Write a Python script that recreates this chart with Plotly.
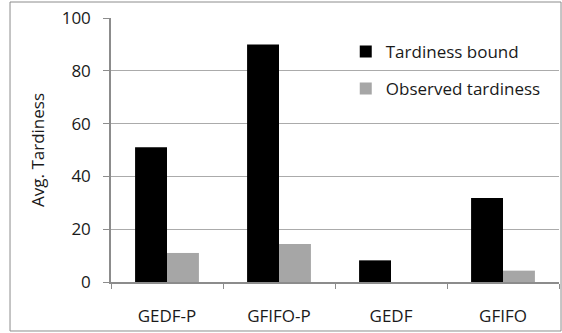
import plotly.graph_objects as go

categories = ["GEDF-P", "GFIFO-P", "GEDF", "GFIFO"]
tardiness_bound = [51, 90, 8.2, 31.8]
observed_tardiness = [11, 14.4, 0, 4.3]
y_ticks = [0, 20, 40, 60, 80, 100]

FONT = "Open Sans"

fig = go.Figure()
fig.add_trace(go.Bar(name="Tardiness bound", x=categories, y=tardiness_bound,
                     marker=dict(color="#000000", line=dict(width=0)),
                     legendgroup="a"))
fig.add_trace(go.Bar(name="Observed tardiness", x=categories, y=observed_tardiness,
                     marker=dict(color="#a6a6a6", line=dict(width=0)),
                     legendgroup="b"))

fig.update_layout(
    width=562, height=333,
    margin=dict(l=111, r=3, t=18, b=51, autoexpand=False),
    paper_bgcolor="white", plot_bgcolor="white",
    barmode="group", bargap=0.43, bargroupgap=0,
    font=dict(family=FONT, size=17, color="#1a1a1a"),
    showlegend=True,
    legend=dict(x=0.524, y=0.94, xanchor="left", yanchor="top",
                bgcolor="rgba(0,0,0,0)", tracegroupgap=12,
                font=dict(family=FONT, size=17, color="#1a1a1a")),
    xaxis=dict(type="category", showgrid=False, showline=True, automargin=False,
               linecolor="#8c8c8c", linewidth=1.5,
               ticks="outside", ticklen=5, tickcolor="#8c8c8c",
               tickson="boundaries", ticklabelstandoff=18,
               tickfont=dict(family=FONT, size=17)),
    yaxis=dict(range=[0, 100], tickvals=y_ticks, showgrid=True, automargin=False,
               gridcolor="#ababab", gridwidth=1, zeroline=False,
               showline=True, linecolor="#8c8c8c", linewidth=1.5,
               ticks="outside", ticklen=6, tickcolor="#8c8c8c",
               ticklabelstandoff=9,
               tickfont=dict(family=FONT, size=17),
               title=dict(text="Avg. Tardiness", standoff=13,
                          font=dict(family=FONT, size=17))),
)

fig.add_shape(type="rect", xref="paper", yref="paper",
              x0=-0.2254, x1=1.0045, y0=-0.1856, y1=1.0606,
              line=dict(color="#8c8c8c", width=1), fillcolor="rgba(0,0,0,0)",
              layer="below")

fig.write_html(
    "out.html",
    config={"responsive": False, "displayModeBar": False},
    post_script="document.body.style.margin='0';document.body.style.overflow='hidden';",
)
